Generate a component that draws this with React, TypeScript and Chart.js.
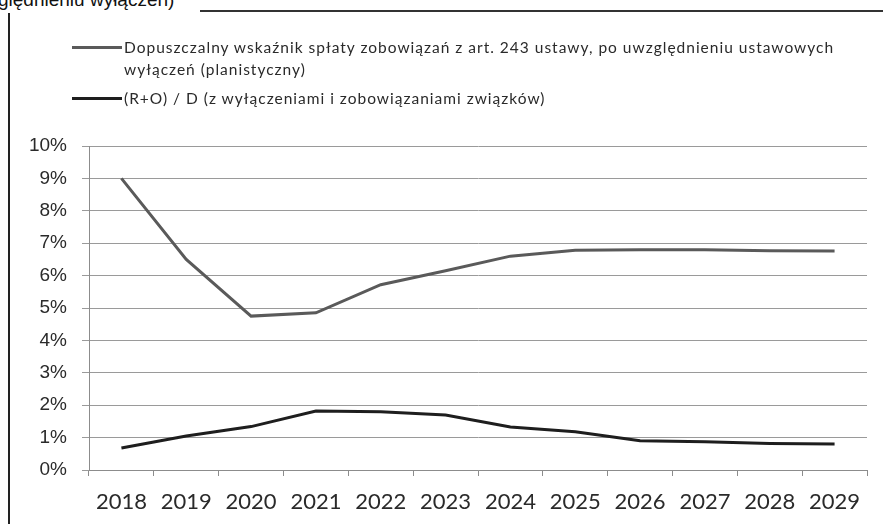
import React, { useEffect, useRef } from "react";
import { Chart, registerables } from "chart.js";

Chart.register(...registerables);

const years = ["2018", "2019", "2020", "2021", "2022", "2023", "2024", "2025", "2026", "2027", "2028", "2029"];
const allowedRatio = [9.0, 6.5, 4.75, 4.85, 5.72, 6.15, 6.6, 6.78, 6.8, 6.8, 6.77, 6.76];
const actualRatio = [0.68, 1.05, 1.34, 1.82, 1.8, 1.7, 1.33, 1.18, 0.9, 0.87, 0.82, 0.8];
const seriesNames = [
  "Dopuszczalny wskaźnik spłaty zobowiązań z art. 243 ustawy, po uwzględnieniu ustawowych",
  "wyłączeń (planistyczny)",
];
const seriesName2 = "(R+O) / D (z wyłączeniami i zobowiązaniami związków)";
const titleFragment = "ględnieniu wyłączeń)";

const upperColor = "#5a5a5a";
const lowerColor = "#1e1e1e";

export default function App() {
  const ref = useRef<HTMLCanvasElement | null>(null);
  useEffect(() => {
    if (!ref.current) return;
    const chart = new Chart(ref.current, {
      type: "line",
      data: {
        labels: years,
        datasets: [
          {
            label: seriesNames.join(" "),
            data: allowedRatio,
            borderColor: upperColor,
            borderWidth: 3,
            pointRadius: 0,
            tension: 0,
            fill: false,
          },
          {
            label: seriesName2,
            data: actualRatio,
            borderColor: lowerColor,
            borderWidth: 3,
            pointRadius: 0,
            tension: 0,
            fill: false,
          },
        ],
      },
      options: {
        animation: false,
        responsive: false,
        devicePixelRatio: 1,
        layout: { padding: { left: 0, top: 146, right: 16, bottom: 0 } },
        plugins: { legend: { display: false }, tooltip: { enabled: false } },
        scales: {
          x: {
            offset: true,
            grid: { drawOnChartArea: false, drawTicks: true, tickLength: 6, offset: true, color: "#8c8c8c" },
            border: { display: true, color: "#8c8c8c", width: 1 },
            ticks: { color: "#2a2a2a", font: { family: "Lato", size: 22 }, padding: 13, maxRotation: 0, autoSkip: false },
            afterFit: (s: any) => { s.height = 54; },
          },
          y: {
            min: 0,
            max: 10,
            grid: { color: "#9a9a9a", tickLength: 7, lineWidth: 1 },
            border: { display: true, color: "#8c8c8c", width: 1 },
            ticks: {
              stepSize: 1,
              color: "#2a2a2a",
              padding: 15,
              font: { family: "Liberation Sans", size: 19 },
              callback: (v: any) => `${v}%`,
            },
            afterFit: (s: any) => { s.width = 89; },
          },
        },
      },
    });
    return () => chart.destroy();
  }, []);

  const legendText: React.CSSProperties = {
    position: "absolute",
    left: 124,
    fontFamily: "Lato",
    fontSize: 15.5,
    letterSpacing: 1,
    color: "#2a2a2a",
    whiteSpace: "nowrap",
    lineHeight: "22px",
  };
  const legendLine = (top: number, color: string): React.CSSProperties => ({
    position: "absolute",
    left: 72,
    top,
    width: 50,
    height: 3,
    background: color,
  });

  return (
    <div style={{ position: "fixed", left: 0, top: 0, width: 883, height: 524, background: "#ffffff", overflow: "hidden" }}>
      <div
        style={{
          position: "absolute",
          left: -2,
          top: -10,
          fontFamily: "Liberation Sans",
          fontSize: 19,
          lineHeight: "19px",
          color: "#111",
          whiteSpace: "nowrap",
        }}
      >
        {titleFragment}
      </div>
      <div style={{ position: "absolute", left: 200, top: 10, width: 683, height: 2, background: "#333" }} />
      <div style={{ position: "absolute", left: 8, top: 13, width: 2, height: 511, background: "#222" }} />
      <canvas ref={ref} width={883} height={524} style={{ position: "absolute", left: 0, top: 0 }} />
      <div style={legendLine(46, upperColor)} />
      <div style={{ ...legendText, top: 36 }}>
        {seriesNames[0]}
        <br />
        {seriesNames[1]}
      </div>
      <div style={legendLine(97, lowerColor)} />
      <div style={{ ...legendText, top: 87 }}>{seriesName2}</div>
    </div>
  );
}
